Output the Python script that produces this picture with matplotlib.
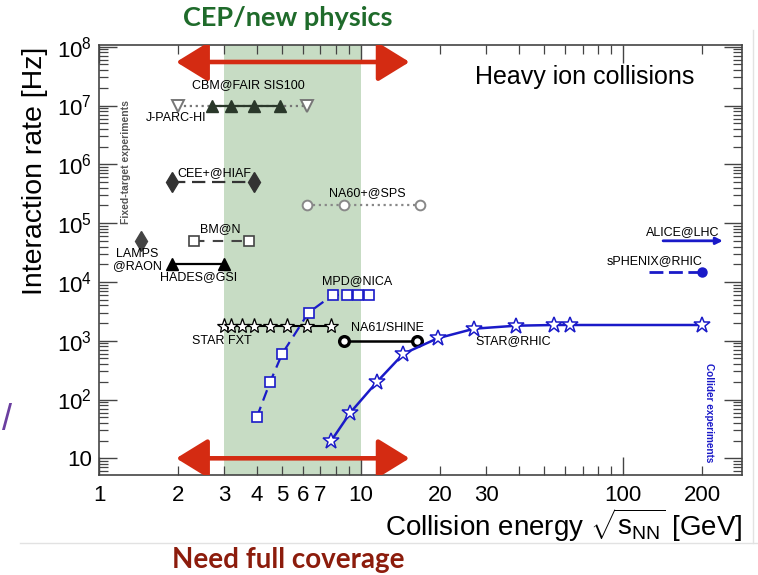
import matplotlib
matplotlib.use('Agg')
import matplotlib.pyplot as plt
from matplotlib.patches import FancyArrowPatch
from matplotlib.lines import Line2D

plt.rcParams['font.family'] = ['Liberation Sans', 'DejaVu Sans']
plt.rcParams['mathtext.fontset'] = 'custom'
plt.rcParams['mathtext.rm'] = 'Liberation Sans'
plt.rcParams['mathtext.it'] = 'Liberation Sans:italic'
plt.rcParams['mathtext.bf'] = 'Liberation Sans:bold'

# ---- data (sqrt(s_NN) in GeV, interaction rate in Hz) ----
jparc_e = [2.0, 6.2]
jparc_r = [1e7, 1e7]
cbm_e = [2.7, 3.2, 3.9, 4.9]
cbm_r = [1e7, 1e7, 1e7, 1e7]
cee_e = [1.9, 3.9]
cee_r = [5e5, 5e5]
na60_e = [6.2, 8.6, 16.8]
na60_r = [2e5, 2e5, 2e5]
bmn_e = [2.3, 3.75]
bmn_r = [5e4, 5e4]
lamps_e = [1.45]
lamps_r = [5e4]
hades_e = [1.9, 3.0]
hades_r = [2e4, 2e4]
fxt_e = [3.0, 3.2, 3.5, 3.9, 4.5, 5.2, 6.2, 7.7]
fxt_r = [1.8e3] * 8
mpd_e = [4.0, 4.5, 5.0, 6.3, 7.8, 8.8, 9.7, 10.7]
mpd_r = [50, 200, 600, 3000, 6000, 6000, 6000, 6000]
na61_e = [8.6, 16.4]
na61_r = [1e3, 1e3]
star_e = [7.7, 9.1, 11.5, 14.5, 19.6, 27, 39, 54.4, 62.4, 200]
star_r = [20, 60, 200, 600, 1100, 1600, 1800, 1850, 1850, 1850]
sphenix_line_e = [125, 195]
sphenix_e = [200]
sphenix_r = [1.5e4]
alice_e = [142, 240]
alice_r = 5e4

cep_band = [3, 10]
cover_e = [1.97, 15.3]
cover_top = 5.5e7
cover_bottom = 10

xtick_major = [1, 10, 100]
xtick_major_labels = ['1', '10', '100']
xtick_minor = [2, 3, 4, 5, 6, 7, 8, 9, 20, 30, 40, 50, 60, 70, 80, 90, 200]
xtick_minor_labels = ['2', '3', '4', '5', '6', '7', '', '', '20', '30',
                      '', '', '', '', '', '', '200']
ytick_major = [1e1, 1e2, 1e3, 1e4, 1e5, 1e6, 1e7, 1e8]
ytick_labels = ['10', '$10^{2}$', '$10^{3}$', '$10^{4}$', '$10^{5}$',
                '$10^{6}$', '$10^{7}$', '$10^{8}$']

blue = '#1a1ac8'
red = '#d42b12'

fig = plt.figure(figsize=(7.58, 5.75), dpi=100)
ax = fig.add_axes([99 / 758, 100 / 575, 643 / 758, 430 / 575])
ax.set_xscale('log')
ax.set_yscale('log')
ax.set_xlim(1, 284)
ax.set_ylim(5.2, 1.07e8)

ax.axvspan(cep_band[0], cep_band[1], color='#c7dcc4', lw=0, zorder=0)

# fixed-target experiments
ax.plot(jparc_e, jparc_r, ls=':', color='#777777', lw=1.6, marker='v',
        ms=8, mfc='white', mec='#777777', mew=1.4, zorder=3)
ax.plot(cbm_e, cbm_r, ls='-', color='#2a382a', lw=1.6, marker='^', ms=9, zorder=4)
ax.plot(cee_e, cee_r, ls=(0, (6, 3)), color='#333333', lw=1.6, marker='d', ms=10, zorder=3)
ax.plot(na60_e, na60_r, ls=':', color='#888888', lw=1.6, marker='o', ms=7,
        mfc='white', mec='#888888', mew=1.4, zorder=3)
ax.plot(bmn_e, bmn_r, ls=(0, (5, 4)), color='#444444', lw=1.5, marker='s', ms=7,
        mfc='white', mec='#444444', mew=1.2, zorder=3)
ax.plot(lamps_e, lamps_r, ls='none', color='#444444', marker='d', ms=10, zorder=3)
ax.plot(hades_e, hades_r, ls='-', color='black', lw=1.6, marker='^', ms=9, zorder=3)
ax.plot(fxt_e, fxt_r, ls='-', color='black', lw=1.5, marker='*', ms=11,
        mfc='white', mec='black', mew=0.9, zorder=3)
ax.plot(mpd_e, mpd_r, ls=(0, (5, 3)), color=blue, lw=1.6, marker='s', ms=7,
        mfc='white', mec=blue, mew=1.2, zorder=4)
ax.plot(na61_e, na61_r, ls='-', color='black', lw=1.8, marker='o', ms=7,
        mfc='white', mec='black', mew=2.4, zorder=3)

# collider experiments
ax.plot(star_e, star_r, ls='-', color=blue, lw=1.8, marker='*', ms=12,
        mfc='white', mec=blue, mew=1.1, zorder=4)
ax.plot(sphenix_line_e, [sphenix_r[0]] * 2, ls=(0, (5, 2)), color=blue, lw=2, zorder=3)
ax.plot(sphenix_e, sphenix_r, ls='none', marker='o', ms=6.5, color=blue, zorder=4)
ax.annotate('', xy=(alice_e[1], alice_r), xytext=(alice_e[0], alice_r),
            arrowprops=dict(arrowstyle='-|>', color=blue, lw=2, mutation_scale=10,
                            shrinkA=0, shrinkB=0))

# coverage arrows
for yv in [cover_top, cover_bottom]:
    arr = FancyArrowPatch((cover_e[0], yv), (cover_e[1], yv),
                          arrowstyle='<|-|>,head_length=0.65,head_width=0.4',
                          mutation_scale=30, lw=3.3, color=red, shrinkA=0, shrinkB=0,
                          zorder=5)
    ax.add_patch(arr)

# experiment labels
lab = dict(fontsize=9, ha='center', va='center', zorder=6)
ax.text(3.7, 2.23e7, 'CBM@FAIR SIS100', **lab)
ax.text(1.97, 6.1e6, 'J-PARC-HI', **lab)
ax.text(2.75, 7.1e5, 'CEE+@HIAF', **lab)
ax.text(10.6, 3.25e5, 'NA60+@SPS', **lab)
ax.text(2.9, 7.9e4, 'BM@N', **lab)
ax.text(1.40, 2.36e4, 'LAMPS\n@RAON', linespacing=1.0, **lab)
ax.text(2.39, 1.21e4, 'HADES@GSI', **lab)
ax.text(9.65, 1.03e4, 'MPD@NICA', **lab)
ax.text(2.95, 990, 'STAR FXT', **lab)
ax.text(12.6, 1640, 'NA61/SHINE', **lab)
ax.text(38, 990, 'STAR@RHIC', **lab)
ax.text(169, 7.06e4, 'ALICE@LHC', **lab)
ax.text(132, 2.27e4, 'sPHENIX@RHIC', **lab)

ax.text(0.756, 0.926, 'Heavy ion collisions', transform=ax.transAxes,
        fontsize=18, ha='center', va='center')
ax.text(0.042, 0.728, 'Fixed-target experiments', transform=ax.transAxes,
        fontsize=7.5, fontweight='bold', color='#555555', rotation=90,
        ha='center', va='center')
ax.text(0.949, 0.144, 'Collider experiments', transform=ax.transAxes,
        fontsize=7.2, fontweight='bold', color=blue, rotation=-90,
        ha='center', va='center')

# ticks
ax.set_xticks(xtick_major, xtick_major_labels)
ax.set_xticks(xtick_minor, xtick_minor_labels, minor=True)
ax.set_yticks(ytick_major, ytick_labels)
ax.tick_params(which='both', direction='in', top=True, right=True,
               labelsize=16, color='#444444')
ax.tick_params(which='major', length=13, width=1)
ax.tick_params(which='minor', length=6.5, width=0.9)
ax.tick_params(axis='x', which='both', pad=7)
ax.tick_params(axis='y', which='both', pad=5)
for s in ax.spines.values():
    s.set_color('#444444')
    s.set_linewidth(1.2)

fig.text(48 / 758, 1 - 47 / 575, 'Interaction rate [Hz]', rotation=90,
         rotation_mode='anchor', ha='right', va='bottom', fontsize=20.5)
fig.text(742 / 758, 1 - 525 / 575,
         r'Collision energy $\sqrt{\mathrm{s}_{\mathrm{NN}}}$ [GeV]',
         ha='right', va='center', fontsize=20)

fig.text(288 / 758, 1 - 18 / 575, 'CEP/new physics', ha='center', va='center',
         fontsize=19.5, fontweight='bold', color='#1f6b2b', family=['Lato', 'DejaVu Sans'])
fig.text(288 / 758, 1 - 560 / 575, 'Need full coverage', ha='center', va='center',
         fontsize=20, fontweight='bold', color='#8c1c0c', family=['Lato', 'DejaVu Sans'])
fig.text(0.002, 1 - 420 / 575, '/', ha='left', va='center', fontsize=26,
         color='#6b3fa0')

fig.add_artist(Line2D([20 / 758, 1], [1 - 543 / 575] * 2, color='#e2e2e2', lw=1))
fig.add_artist(Line2D([753 / 758] * 2, [1 - 30 / 575, 1 - 543 / 575], color='#e2e2e2', lw=1))

fig.savefig('out.png', dpi=100)
